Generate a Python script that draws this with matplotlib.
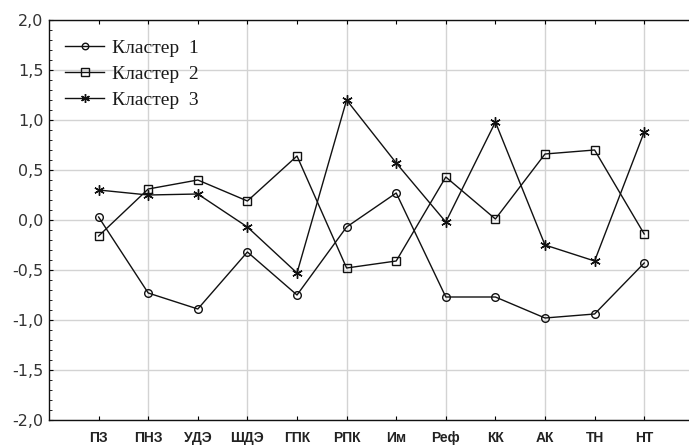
import matplotlib
matplotlib.use("Agg")
import matplotlib.pyplot as plt
from matplotlib.ticker import MultipleLocator

categories = ["ПЗ", "ПНЗ", "УДЭ", "ШДЭ", "ГПК", "РПК", "Им", "Реф", "КК", "АК", "ТН", "НТ"]
cluster1 = [0.03, -0.73, -0.89, -0.32, -0.75, -0.07, 0.27, -0.77, -0.77, -0.98, -0.94, -0.43]
cluster2 = [-0.16, 0.31, 0.40, 0.19, 0.64, -0.48, -0.41, 0.43, 0.01, 0.66, 0.70, -0.14]
cluster3 = [0.30, 0.25, 0.26, -0.07, -0.53, 1.20, 0.57, -0.02, 0.98, -0.25, -0.41, 0.88]
yticks = [-2.0, -1.5, -1.0, -0.5, 0.0, 0.5, 1.0, 1.5, 2.0]
ytick_labels = ["-2,0", "-1,5", "-1,0", "-0,5", "0,0", "0,5", "1,0", "1,5", "2,0"]
series_names = ["Кластер  1", "Кластер  2", "Кластер  3"]

W, H = 689, 446
fig = plt.figure(figsize=(W / 100, H / 100), dpi=100)
left = 49 / W
bottom = 26 / H
height = 400 / H
width = (13 * 49.6) / W
ax = fig.add_axes([left, bottom, width, height])

x = list(range(1, len(categories) + 1))
lc = "#111111"
ax.plot(x, cluster1, color=lc, lw=1.0, marker="o", ms=5.5, mfc="none", mec=lc, mew=1.0, label=series_names[0])
ax.plot(x, cluster2, color=lc, lw=1.0, marker="s", ms=6, mfc="none", mec=lc, mew=1.0, label=series_names[1])
ax.plot(x, cluster3, color=lc, lw=1.0, marker=(6, 2, 0), ms=7.5, mec=lc, mew=1.0, label=series_names[2])

ax.set_xlim(0, 13)
ax.set_ylim(-2.0, 2.0)

ax.set_xticks(x)
ax.set_xticklabels(categories, fontfamily="Liberation Sans", fontweight="bold", fontsize=10, color="#222222")
ax.set_yticks(yticks)
ax.set_yticklabels(ytick_labels, fontfamily="DejaVu Sans", fontsize=11.5, color="#333333")
ax.yaxis.set_minor_locator(MultipleLocator(0.1))

ax.tick_params(axis="x", which="major", direction="in", length=3, width=0.8, top=True, pad=8)
ax.tick_params(axis="y", which="major", direction="in", length=3, width=0.8, right=True, pad=4)
ax.tick_params(axis="y", which="minor", direction="in", length=2, width=0.6, right=True)

# grid: vertical lines at every second category, horizontal at each major y tick
for gx in x[1::2]:
    ax.axvline(gx, color="#d3d3d3", lw=1.0, zorder=0)
for gy in yticks:
    ax.axhline(gy, color="#d3d3d3", lw=1.0, zorder=0)

for s in ax.spines.values():
    s.set_linewidth(1.0)
    s.set_color("#111111")

leg = ax.legend(loc="upper left", bbox_to_anchor=(0.004, 0.985), frameon=False,
                prop={"family": "Liberation Serif", "size": 14},
                handlelength=2.0, handletextpad=0.4, labelspacing=0.42, borderaxespad=0.3,
                markerscale=0.85)
for t in leg.get_texts():
    t.set_color("#1a1a1a")

fig.savefig("out.png", dpi=100)
